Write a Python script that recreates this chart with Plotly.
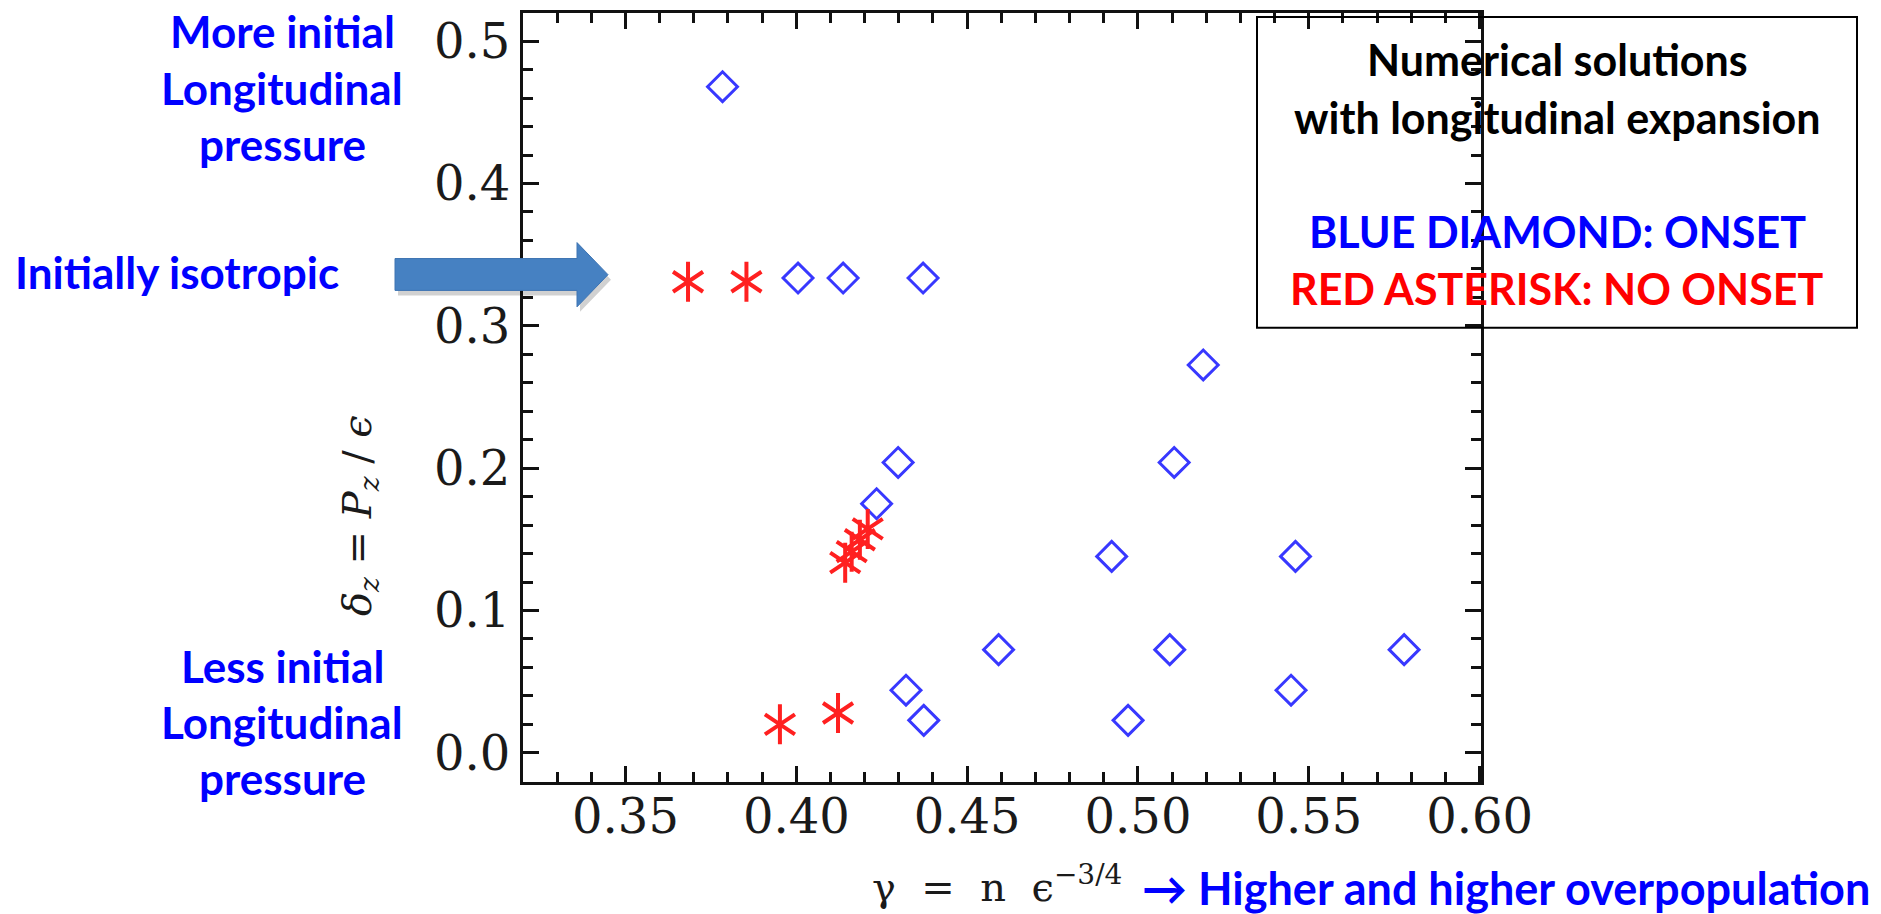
import plotly.graph_objects as go

# Simulation runs: gamma = n * eps^(-3/4) against delta_z = P_z / eps
onset_gamma = [0.3784, 0.4005, 0.4137, 0.4371, 0.5191, 0.4298, 0.5106, 0.4235,
               0.4923, 0.5461, 0.4592, 0.5093, 0.5779, 0.4321, 0.5448, 0.4373, 0.4971]
onset_delta = [0.468, 0.3336, 0.3336, 0.3336, 0.2725, 0.204, 0.204, 0.175,
               0.138, 0.138, 0.0725, 0.0725, 0.0725, 0.044, 0.044, 0.0228, 0.0228]

no_onset_gamma = [0.3683, 0.3854, 0.4143, 0.4162, 0.4186, 0.4209, 0.3952, 0.4122]
no_onset_delta = [0.331, 0.331, 0.1336, 0.1413, 0.1497, 0.1573, 0.020, 0.028]

x_ticks = [0.35, 0.40, 0.45, 0.50, 0.55, 0.60]
x_tick_labels = ["0.35", "0.40", "0.45", "0.50", "0.55", "0.60"]
y_ticks = [0.0, 0.1, 0.2, 0.3, 0.4, 0.5]
y_tick_labels = ["0.0", "0.1", "0.2", "0.3", "0.4", "0.5"]

W, H = 1881, 914
ML, MR, MT, MB = 523, 400, 10, 132
PW, PH = W - ML - MR, H - MT - MB

BLUE_TXT = "#0000FF"
RED_TXT = "#FF0000"
SANS = "Lato"
SERIF = "DejaVu Serif"


def px(x):
    """page pixel x -> paper coordinate"""
    return (x - ML) / PW


def py(y):
    """page pixel y (from top) -> paper coordinate"""
    return (H - MB - y) / PH


fig = go.Figure()

fig.add_trace(go.Scatter(
    x=onset_gamma, y=onset_delta, mode="markers", name="onset",
    marker=dict(symbol="diamond-open", size=23, color="#3838FF",
                line=dict(color="#3838FF", width=3)),
))

# six-armed asterisk built from two three-armed symbols on the same points
for sym in ("y-up-open", "y-down-open"):
    fig.add_trace(go.Scatter(
        x=no_onset_gamma, y=no_onset_delta, mode="markers", name="no onset",
        marker=dict(symbol=sym, size=25, color="#FF2020",
                    line=dict(color="#FF2020", width=4)),
    ))

axis_common = dict(
    showline=True, linecolor="#111111", linewidth=3, mirror="allticks",
    ticks="inside", ticklen=16, tickwidth=3, tickcolor="#111111",
    showgrid=False, zeroline=False,
    tickfont=dict(family=SERIF, size=48, color="#1a1a1a"),
)

fig.update_xaxes(
    **axis_common, range=[0.32, 0.6004],
    tickvals=x_ticks, ticktext=x_tick_labels,
    minor=dict(ticks="inside", ticklen=10, tickwidth=3, tickcolor="#111111",
               tick0=0, dtick=0.01),
    ticklabelstandoff=-10,
)
fig.update_yaxes(
    **axis_common, range=[-0.0205, 0.5198],
    tickvals=y_ticks, ticktext=y_tick_labels,
    minor=dict(ticks="inside", ticklen=10, tickwidth=3, tickcolor="#111111",
               tick0=0, dtick=0.02),
    ticklabelstandoff=0,
)

annotations = []


def label(text, x, y, color, size, xanchor="center", family=SANS, weight=700, angle=0):
    annotations.append(dict(
        text=text, x=px(x), y=py(y), xref="paper", yref="paper",
        xanchor=xanchor, yanchor="middle", showarrow=False, textangle=angle,
        font=dict(family=family, size=size, color=color, weight=weight),
    ))


# side notes
for txt, y in [("More initial", 28), ("Longitudinal", 85), ("pressure", 142)]:
    label(txt, 282, y, BLUE_TXT, 44)
for txt, y in [("Less initial", 666), ("Longitudinal", 722), ("pressure", 778)]:
    label(txt, 282, y, BLUE_TXT, 44)
label("Initially isotropic", 13, 270, BLUE_TXT, 44, xanchor="left")

# legend box text
label("Numerical solutions", 1557, 57, "#000000", 43)
label("with longitudinal expansion", 1557, 114.5, "#000000", 43)
label("BLUE DIAMOND: ONSET", 1557, 229.5, BLUE_TXT, 43)
label("RED ASTERISK: NO ONSET", 1557, 287, RED_TXT, 43)

# axis titles
label("<i>δ</i><sub><i>z</i></sub> = <i>P</i><sub><i>z</i></sub> / <i>ϵ</i>",
      360, 515, "#1a1a1a", 40, family=SERIF, weight=400, angle=-90)
label("γ&nbsp;&nbsp;=&nbsp;&nbsp;n&nbsp;&nbsp;ϵ<sup>−3/4</sup>",
      870, 884, "#1a1a1a", 40, xanchor="left", family=SERIF, weight=400)
label("→ Higher and higher overpopulation", 1140, 888, BLUE_TXT, 45,
      xanchor="left")


def poly(points):
    return "M " + " L ".join(f"{px(a):.5f},{py(b):.5f}" for a, b in points) + " Z"


arrow_pts = [(395, 256.5), (577, 256.5), (577, 240.5), (608, 272.7),
             (577, 305), (577, 288.5), (395, 288.5)]
shadow_pts = [(a + 3, b + 5) for a, b in arrow_pts]

shapes = [
    dict(type="path", path=poly(shadow_pts), xref="paper", yref="paper",
         fillcolor="rgba(0,0,0,0.18)", line=dict(width=0), layer="above"),
    dict(type="path", path=poly(arrow_pts), xref="paper", yref="paper",
         fillcolor="#4681C2", line=dict(color="#3E74B2", width=1), layer="above"),
    dict(type="rect", xref="paper", yref="paper",
         x0=px(1257), x1=px(1857), y0=py(326), y1=py(14),
         line=dict(color="#000000", width=2), fillcolor="rgba(0,0,0,0)", layer="above"),
]

fig.update_layout(
    width=W, height=H,
    margin=dict(l=ML, r=MR, t=MT, b=MB, pad=0),
    paper_bgcolor="white", plot_bgcolor="white",
    showlegend=False,
    annotations=annotations,
    shapes=shapes,
)

fig.write_html("out.html")
